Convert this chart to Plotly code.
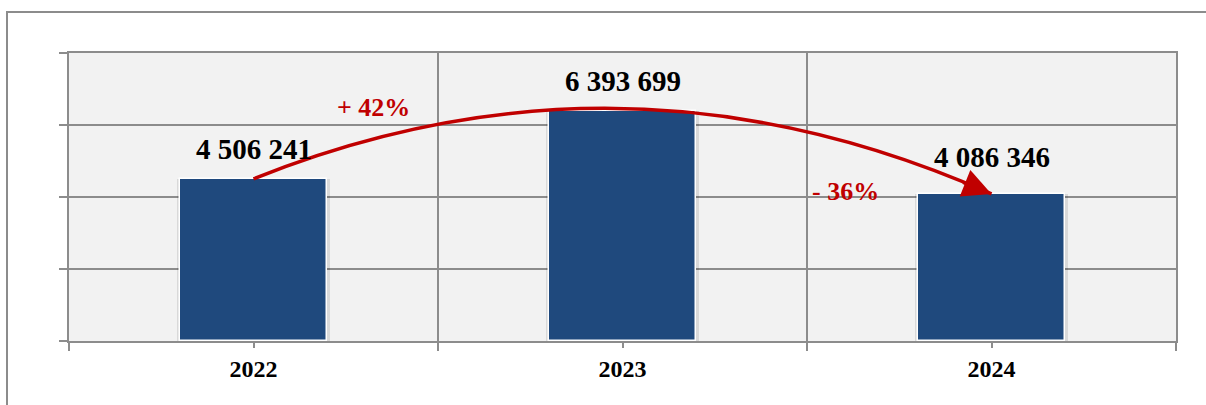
import plotly.graph_objects as go

years = ['2022', '2023', '2024']
values = [4506241, 6393699, 4086346]

BAR_COLOR = '#1f497d'
RED = '#c00000'
GRAY = '#8c8c8c'
FONT = 'Liberation Serif, Times New Roman, serif'

W, H = 1206, 405
L, R, T, B = 69, 30, 53, 64
PW, PH = W - L - R, H - T - B


def fmt(v):
    return f'{v:,}'.replace(',', ' ')


def pct(a, b):
    p = round((b / a - 1) * 100)
    return f'+ {p}%' if p >= 0 else f'- {abs(p)}%'


x = list(range(len(years)))

fig = go.Figure()

# soft shadow behind bars
fig.add_trace(go.Bar(
    x=x, y=values, width=0.415,
    marker=dict(color='rgba(0,0,0,0.10)', line=dict(width=0)),
    hoverinfo='skip', showlegend=False
))
fig.add_trace(go.Bar(
    x=x, y=values, width=0.4,
    marker=dict(color=BAR_COLOR, line=dict(color='white', width=1.5)),
    showlegend=False
))

# value labels above bars
shifts = [12, 12, 19]
for i, v in enumerate(values):
    fig.add_annotation(
        x=x[i], y=v, text=f'<b>{fmt(v)}</b>', showarrow=False,
        yanchor='bottom', yshift=shifts[i],
        font=dict(family=FONT, size=29, color='black')
    )

# red arc from first to last bar with arrow head
fig.add_shape(
    type='path', xref='x', yref='y',
    path=f'M {x[0]},{values[0]} Q {x[1]},8620000 {x[2]},{values[2]}',
    line=dict(color=RED, width=3.5)
)
fig.add_annotation(
    x=x[2], y=values[2], ax=-30, ay=-12, text='',
    showarrow=True, arrowhead=2, arrowsize=1.9, arrowwidth=3,
    arrowcolor=RED, standoff=0
)

# change percentages
fig.add_annotation(
    x=0.325, y=6480000, text=f'<b>{pct(values[0], values[1])}</b>',
    showarrow=False, font=dict(family=FONT, size=26, color=RED)
)
fig.add_annotation(
    x=1.604, y=4140000, text=f'<b>{pct(values[1], values[2])}</b>',
    showarrow=False, font=dict(family=FONT, size=26, color=RED)
)

# outer frame
fig.add_shape(
    type='rect', xref='paper', yref='paper',
    x0=(7 - L) / PW, x1=(W + 5 - L) / PW,
    y0=-(B + 10) / PH, y1=(PH + T - 12) / PH,
    line=dict(color=GRAY, width=2), layer='below'
)

fig.update_layout(
    width=W, height=H,
    margin=dict(l=L, r=R, t=T, b=B),
    paper_bgcolor='white',
    plot_bgcolor='#f2f2f2',
    barmode='overlay',
    bargap=0,
    showlegend=False,
    xaxis=dict(
        range=[-0.5, 2.5],
        tickvals=x, ticktext=[f'<b>{y}</b>' for y in years],
        tickfont=dict(family=FONT, size=24, color='black'),
        ticks='outside', ticklen=5, tickwidth=2, tickcolor=GRAY,
        ticklabelstandoff=0,
        showgrid=False, zeroline=False,
        showline=True, linecolor=GRAY, linewidth=2, mirror=True,
        minor=dict(tickvals=[-0.5, 0.5, 1.5, 2.5], ticks='outside', ticklen=8,
                   tickwidth=2, tickcolor=GRAY,
                   showgrid=True, gridcolor=GRAY, gridwidth=2),
    ),
    yaxis=dict(
        range=[0, 8000000], dtick=2000000,
        showticklabels=False,
        ticks='outside', ticklen=8, tickwidth=2, tickcolor=GRAY,
        showgrid=True, gridcolor=GRAY, gridwidth=2,
        zeroline=False,
        showline=True, linecolor=GRAY, linewidth=2, mirror=True,
    ),
)

# drop the default page margin so the figure sits at the window origin
fig.write_html('out.html', config={'displayModeBar': False},
               post_script="document.body.style.margin='0';")
